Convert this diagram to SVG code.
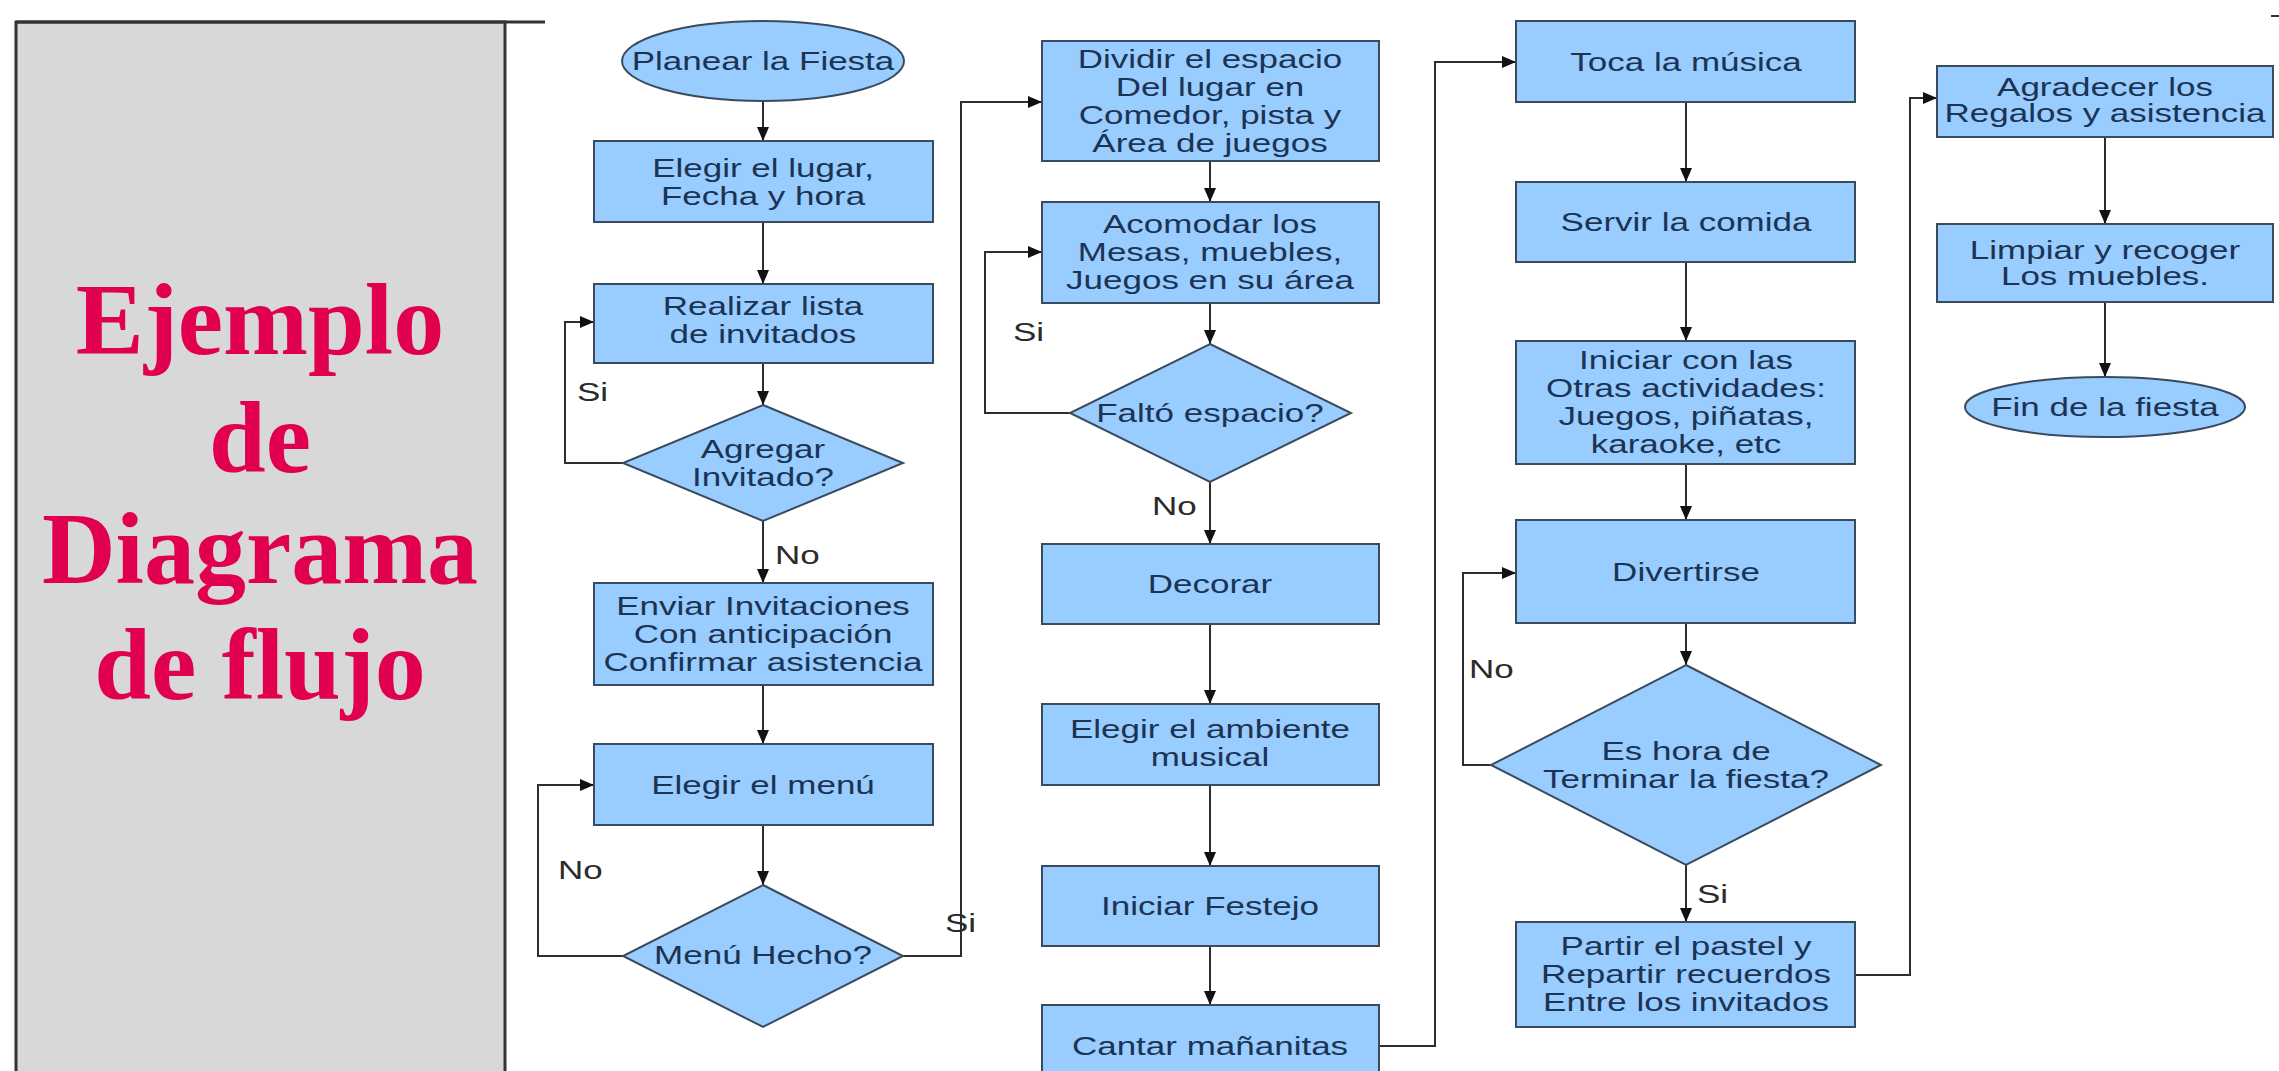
<svg xmlns="http://www.w3.org/2000/svg" width="2279" height="1071" viewBox="0 0 2279 1071">
<style>
.box{fill:#99ccff;stroke:#3b4b5e;stroke-width:2}
.t{font-family:"Liberation Sans",Arial,sans-serif;font-size:25px;fill:#1c3453;text-anchor:middle}
.lbl{font-family:"Liberation Sans",Arial,sans-serif;font-size:25px;fill:#2b2b2b}
.title{font-family:"Liberation Serif","Times New Roman",serif;font-weight:bold;font-size:102px;fill:#e0004f;text-anchor:middle}
.c{fill:none;stroke:#2e2e2e;stroke-width:2}
</style>
<defs>
<marker id="ah" markerUnits="userSpaceOnUse" markerWidth="14" markerHeight="12" refX="14" refY="6" orient="auto">
<path d="M0,0 L14,6 L0,12 z" fill="#111"/>
</marker>
</defs>
<rect width="2279" height="1071" fill="#ffffff"/>

<g id="panel">
<rect x="16" y="22" width="489" height="1065" fill="#d8d8d8" stroke="#333" stroke-width="3"/>
<line x1="16" y1="22" x2="545" y2="22" stroke="#333" stroke-width="3"/>
<text class="title" x="260" y="354">Ejemplo</text>
<text class="title" x="260" y="472">de</text>
<text class="title" x="260" y="583">Diagrama</text>
<text class="title" x="260" y="699">de flujo</text>
<line x1="2271" y1="16" x2="2279" y2="16" stroke="#333" stroke-width="2"/>
</g>

<g id="connectors">
<path class="c" d="M763,101 V141" marker-end="url(#ah)"/>
<path class="c" d="M763,222 V284" marker-end="url(#ah)"/>
<path class="c" d="M763,363 V405" marker-end="url(#ah)"/>
<path class="c" d="M623,463 H565 V322 H594" marker-end="url(#ah)"/>
<path class="c" d="M763,521 V583" marker-end="url(#ah)"/>
<path class="c" d="M763,685 V744" marker-end="url(#ah)"/>
<path class="c" d="M763,825 V885" marker-end="url(#ah)"/>
<path class="c" d="M623,956 H538 V785 H594" marker-end="url(#ah)"/>
<path class="c" d="M903,956 H961 V102 H1042" marker-end="url(#ah)"/>
<path class="c" d="M1210,161 V202" marker-end="url(#ah)"/>
<path class="c" d="M1210,303 V344" marker-end="url(#ah)"/>
<path class="c" d="M1070,413 H985 V252 H1042" marker-end="url(#ah)"/>
<path class="c" d="M1210,482 V544" marker-end="url(#ah)"/>
<path class="c" d="M1210,624 V704" marker-end="url(#ah)"/>
<path class="c" d="M1210,785 V866" marker-end="url(#ah)"/>
<path class="c" d="M1210,946 V1005" marker-end="url(#ah)"/>
<path class="c" d="M1379,1046 H1435 V62 H1516" marker-end="url(#ah)"/>
<path class="c" d="M1686,102 V182" marker-end="url(#ah)"/>
<path class="c" d="M1686,262 V341" marker-end="url(#ah)"/>
<path class="c" d="M1686,464 V520" marker-end="url(#ah)"/>
<path class="c" d="M1686,623 V665" marker-end="url(#ah)"/>
<path class="c" d="M1491,765 H1463 V573 H1516" marker-end="url(#ah)"/>
<path class="c" d="M1686,865 V922" marker-end="url(#ah)"/>
<path class="c" d="M1855,975 H1910 V98 H1937" marker-end="url(#ah)"/>
<path class="c" d="M2105,137 V224" marker-end="url(#ah)"/>
<path class="c" d="M2105,302 V377" marker-end="url(#ah)"/>
<text class="lbl" transform="translate(577 0) scale(1.4 1)" x="0" y="401">Si</text>
<text class="lbl" transform="translate(775 0) scale(1.4 1)" x="0" y="564">No</text>
<text class="lbl" transform="translate(558 0) scale(1.4 1)" x="0" y="879">No</text>
<text class="lbl" transform="translate(945 0) scale(1.4 1)" x="0" y="932">Si</text>
<text class="lbl" transform="translate(1013 0) scale(1.4 1)" x="0" y="341">Si</text>
<text class="lbl" transform="translate(1152 0) scale(1.4 1)" x="0" y="515">No</text>
<text class="lbl" transform="translate(1469 0) scale(1.4 1)" x="0" y="678">No</text>
<text class="lbl" transform="translate(1697 0) scale(1.4 1)" x="0" y="903">Si</text>
</g>

<g id="n-planear">
<ellipse class="box" cx="763" cy="61" rx="141" ry="40"/>
<text class="t" transform="translate(763 0) scale(1.4 1)" x="0" y="70">Planear la Fiesta</text>
</g>
<g id="n-elegir-lugar">
<rect class="box" x="594" y="141" width="339" height="81"/>
<text class="t" transform="translate(763 0) scale(1.4 1)"><tspan x="0" y="177">Elegir el lugar,</tspan><tspan x="0" y="205">Fecha y hora</tspan></text>
</g>
<g id="n-lista">
<rect class="box" x="594" y="284" width="339" height="79"/>
<text class="t" transform="translate(763 0) scale(1.4 1)"><tspan x="0" y="315">Realizar lista</tspan><tspan x="0" y="343">de invitados</tspan></text>
</g>
<g id="n-agregar">
<polygon class="box" points="763,405 903,463 763,521 623,463"/>
<text class="t" transform="translate(763 0) scale(1.4 1)"><tspan x="0" y="458">Agregar</tspan><tspan x="0" y="486">Invitado?</tspan></text>
</g>
<g id="n-enviar">
<rect class="box" x="594" y="583" width="339" height="102"/>
<text class="t" transform="translate(763 0) scale(1.4 1)"><tspan x="0" y="615">Enviar Invitaciones</tspan><tspan x="0" y="643">Con anticipación</tspan><tspan x="0" y="671">Confirmar asistencia</tspan></text>
</g>
<g id="n-menu">
<rect class="box" x="594" y="744" width="339" height="81"/>
<text class="t" transform="translate(763 0) scale(1.4 1)" x="0" y="794">Elegir el menú</text>
</g>
<g id="n-menu-hecho">
<polygon class="box" points="763,885 903,956 763,1027 623,956"/>
<text class="t" transform="translate(763 0) scale(1.4 1)" x="0" y="964">Menú Hecho?</text>
</g>

<g id="n-dividir">
<rect class="box" x="1042" y="41" width="337" height="120"/>
<text class="t" transform="translate(1210 0) scale(1.4 1)"><tspan x="0" y="68">Dividir el espacio</tspan><tspan x="0" y="96">Del lugar en</tspan><tspan x="0" y="124">Comedor, pista y</tspan><tspan x="0" y="152">Área de juegos</tspan></text>
</g>
<g id="n-acomodar">
<rect class="box" x="1042" y="202" width="337" height="101"/>
<text class="t" transform="translate(1210 0) scale(1.4 1)"><tspan x="0" y="233">Acomodar los</tspan><tspan x="0" y="261">Mesas, muebles,</tspan><tspan x="0" y="289">Juegos en su área</tspan></text>
</g>
<g id="n-falto">
<polygon class="box" points="1210,344 1351,413 1210,482 1070,413"/>
<text class="t" transform="translate(1210 0) scale(1.4 1)" x="0" y="422">Faltó espacio?</text>
</g>
<g id="n-decorar">
<rect class="box" x="1042" y="544" width="337" height="80"/>
<text class="t" transform="translate(1210 0) scale(1.4 1)" x="0" y="593">Decorar</text>
</g>
<g id="n-ambiente">
<rect class="box" x="1042" y="704" width="337" height="81"/>
<text class="t" transform="translate(1210 0) scale(1.4 1)"><tspan x="0" y="738">Elegir el ambiente</tspan><tspan x="0" y="766">musical</tspan></text>
</g>
<g id="n-festejo">
<rect class="box" x="1042" y="866" width="337" height="80"/>
<text class="t" transform="translate(1210 0) scale(1.4 1)" x="0" y="915">Iniciar Festejo</text>
</g>
<g id="n-cantar">
<rect class="box" x="1042" y="1005" width="337" height="85"/>
<text class="t" transform="translate(1210 0) scale(1.4 1)" x="0" y="1055">Cantar mañanitas</text>
</g>

<g id="n-toca">
<rect class="box" x="1516" y="21" width="339" height="81"/>
<text class="t" transform="translate(1686 0) scale(1.4 1)" x="0" y="71">Toca la música</text>
</g>
<g id="n-servir">
<rect class="box" x="1516" y="182" width="339" height="80"/>
<text class="t" transform="translate(1686 0) scale(1.4 1)" x="0" y="231">Servir la comida</text>
</g>
<g id="n-iniciar-act">
<rect class="box" x="1516" y="341" width="339" height="123"/>
<text class="t" transform="translate(1686 0) scale(1.4 1)"><tspan x="0" y="369">Iniciar con las</tspan><tspan x="0" y="397">Otras actividades:</tspan><tspan x="0" y="425">Juegos, piñatas,</tspan><tspan x="0" y="453">karaoke, etc</tspan></text>
</g>
<g id="n-divertirse">
<rect class="box" x="1516" y="520" width="339" height="103"/>
<text class="t" transform="translate(1686 0) scale(1.4 1)" x="0" y="581">Divertirse</text>
</g>
<g id="n-es-hora">
<polygon class="box" points="1686,665 1881,765 1686,865 1491,765"/>
<text class="t" transform="translate(1686 0) scale(1.4 1)"><tspan x="0" y="760">Es hora de</tspan><tspan x="0" y="788">Terminar la fiesta?</tspan></text>
</g>
<g id="n-partir">
<rect class="box" x="1516" y="922" width="339" height="105"/>
<text class="t" transform="translate(1686 0) scale(1.4 1)"><tspan x="0" y="955">Partir el pastel y</tspan><tspan x="0" y="983">Repartir recuerdos</tspan><tspan x="0" y="1011">Entre los invitados</tspan></text>
</g>

<g id="n-agradecer">
<rect class="box" x="1937" y="66" width="336" height="71"/>
<text class="t" transform="translate(2105 0) scale(1.4 1)"><tspan x="0" y="96">Agradecer los</tspan><tspan x="0" y="122">Regalos y asistencia</tspan></text>
</g>
<g id="n-limpiar">
<rect class="box" x="1937" y="224" width="336" height="78"/>
<text class="t" transform="translate(2105 0) scale(1.4 1)"><tspan x="0" y="259">Limpiar y recoger</tspan><tspan x="0" y="285">Los muebles.</tspan></text>
</g>
<g id="n-fin">
<ellipse class="box" cx="2105" cy="407" rx="140" ry="30"/>
<text class="t" transform="translate(2105 0) scale(1.4 1)" x="0" y="416">Fin de la fiesta</text>
</g>
</svg>
